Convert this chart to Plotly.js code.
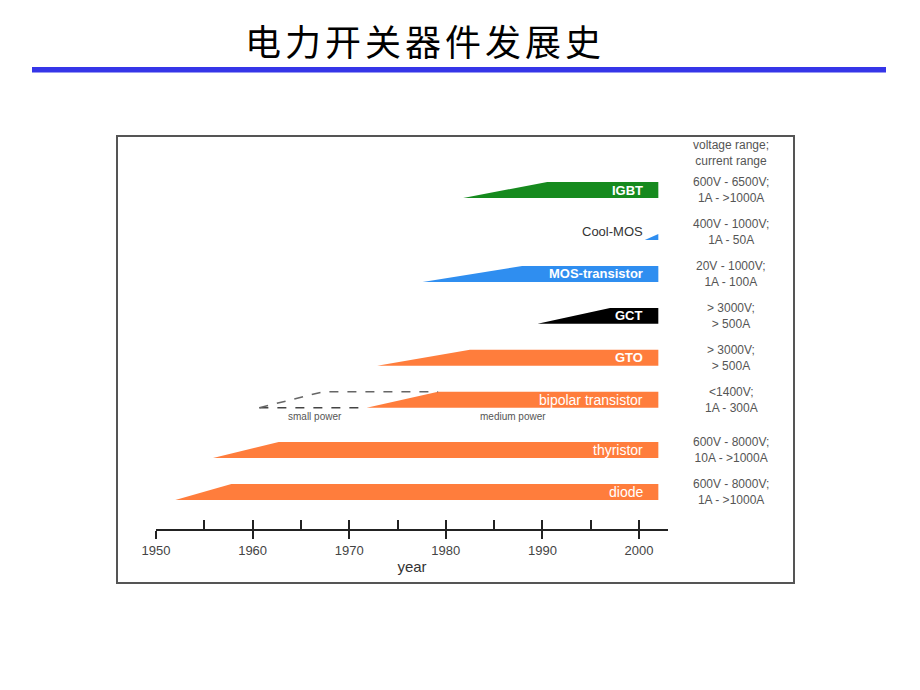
<!DOCTYPE html>
<html><head><meta charset="utf-8">
<script src="https://cdn.plot.ly/plotly-3.0.1.min.js"></script>
<style>
html,body{margin:0;padding:0;background:#fff}
#chart{width:920px;height:690px}
.gtitle{letter-spacing:4px}
</style>
</head><body><div id="chart"></div>
<script>
// ---- data ----
const devices = ['diode', 'thyristor', 'bipolar transistor', 'GTO', 'GCT', 'MOS-transistor', 'Cool-MOS', 'IGBT'];
const startYear = [1952.0, 1955.9, 1971.8, 1972.9, 1989.5, 1977.6, 2000.6, 1981.8];
const fullYear  = [1957.8, 1962.7, 1979.2, 1982.5, 1997.0, 1987.9, 2004.3, 1990.5];
const endYear = 2002;
const voltageRange = ['600V - 8000V;', '600V - 8000V;', '<1400V;', '> 3000V;', '> 3000V;', '20V - 1000V;', '400V - 1000V;', '600V - 6500V;'];
const currentRange = ['1A - >1000A', '10A - >1000A', '1A - 300A', '> 500A', '> 500A', '1A - 100A', '1A - 50A', '1A - >1000A'];
const rangeHeader = ['voltage range;', 'current range'];
const smallPowerStart = 1960.7;
const smallPowerFull = 1967.3;
const yearTicks = [1950, 1960, 1970, 1980, 1990, 2000];
const halfYearTicks = [1950, 1955, 1960, 1965, 1970, 1975, 1980, 1985, 1990, 1995, 2000];
const chartTitle = '电力开关器件发展史';
const axisTitle = 'year';
const powerNotes = ['small power', 'medium power'];

// ---- styles ----
const ORANGE = '#ff7d3c', GREEN = '#168a1e', BLUE = '#2f8ef0', BLACK = '#000000';
const style = {
  'diode': {color: ORANGE, bold: false, inside: true},
  'thyristor': {color: ORANGE, bold: false, inside: true},
  'bipolar transistor': {color: ORANGE, bold: false, inside: true},
  'GTO': {color: ORANGE, bold: true, inside: true},
  'GCT': {color: BLACK, bold: true, inside: true},
  'MOS-transistor': {color: BLUE, bold: true, inside: true},
  'Cool-MOS': {color: BLUE, bold: false, inside: false},
  'IGBT': {color: GREEN, bold: true, inside: true}
};
const SANS = '"Liberation Sans", Arial, sans-serif';
const H = 0.19;                 // half bar height in row units
const rowPos = i => i + (i >= 2 ? 0.2 : 0);
const esc = s => s.replace(/&/g,'&amp;').replace(/</g,'&lt;').replace(/>/g,'&gt;');
const W = 920, HT = 690;
const px = x => x / W, py = y => 1 - y / HT;

const traces = [];
devices.forEach((d, i) => {
  const c = rowPos(i), bot = c - H, top = c + H;
  let xs, ys;
  if (fullYear[i] <= endYear) {
    xs = [startYear[i], fullYear[i], endYear, endYear, startYear[i]];
    ys = [bot, top, top, bot, bot];
  } else {
    const yk = bot + 2 * H * (endYear - startYear[i]) / (fullYear[i] - startYear[i]);
    xs = [startYear[i], endYear, endYear, startYear[i]];
    ys = [bot, yk, bot, bot];
  }
  traces.push({type: 'scatter', x: xs, y: ys, mode: 'lines', fill: 'toself',
    fillcolor: style[d].color, line: {width: 0, color: style[d].color}, hoverinfo: 'skip'});
});
// dashed "small power" lines on the bipolar row
const bi = devices.indexOf('bipolar transistor');
const bc = rowPos(bi);
traces.push({type: 'scatter', mode: 'lines', hoverinfo: 'skip',
  x: [smallPowerStart, startYear[bi]], y: [bc - H, bc - H],
  line: {color: '#444', width: 1.5, dash: 'dash'}});
traces.push({type: 'scatter', mode: 'lines', hoverinfo: 'skip',
  x: [smallPowerStart, smallPowerFull, fullYear[bi]], y: [bc - H, bc + H, bc + H],
  line: {color: '#666', width: 1.5, dash: 'dash'}});
traces.push({type: 'scatter', mode: 'markers', x: [], y: [], xaxis: 'x2', hoverinfo: 'skip'});

const annotations = [];
devices.forEach((d, i) => {
  const c = rowPos(i), st = style[d];
  annotations.push({xref: 'x', yref: 'y', x: endYear, y: c, xanchor: 'right', yanchor: 'middle',
    xshift: -13, showarrow: false,
    text: st.bold ? '<b>' + esc(d) + '</b>' : esc(d),
    font: {family: SANS, size: st.bold ? 13 : (st.inside ? 14 : 13), color: st.inside ? '#ffffff' : '#333333'}});
  annotations.push({xref: 'paper', yref: 'y', x: px(731), y: c, xanchor: 'center', yanchor: 'middle',
    showarrow: false, align: 'center',
    text: esc(voltageRange[i]) + '<br>' + esc(currentRange[i]),
    font: {family: SANS, size: 12, color: '#555555'}});
});
annotations.push({xref: 'paper', yref: 'paper', x: px(731), y: py(152.5), xanchor: 'center', yanchor: 'middle',
  showarrow: false, align: 'center', text: rangeHeader.map(esc).join('<br>'),
  font: {family: SANS, size: 12, color: '#555555'}});
annotations.push({xref: 'x', yref: 'y', x: 1966.5, y: bc - 0.39, xanchor: 'center', yanchor: 'middle',
  showarrow: false, text: powerNotes[0], font: {family: SANS, size: 10, color: '#555555'}});
annotations.push({xref: 'x', yref: 'y', x: 1987.0, y: bc - 0.39, xanchor: 'center', yanchor: 'middle',
  showarrow: false, text: powerNotes[1], font: {family: SANS, size: 10, color: '#555555'}});

const axisPos = py(530);
const dom = [px(156), px(668)];
const layout = {
  width: W, height: HT, margin: {l: 0, r: 0, t: 0, b: 0},
  paper_bgcolor: '#ffffff', plot_bgcolor: 'rgba(0,0,0,0)', showlegend: false,
  title: {text: chartTitle, xref: 'container', yref: 'container', x: 425 / W, xanchor: 'center',
    y: 1 - 43 / HT, yanchor: 'middle',
    font: {family: '"Noto Sans CJK SC", sans-serif', size: 36, color: '#000000'}},
  xaxis: {domain: dom, range: [1950, 2003], anchor: 'free', position: axisPos,
    showline: true, linecolor: '#222222', linewidth: 2, ticks: 'outside', ticklen: 8,
    tickwidth: 2, tickcolor: '#222222', tickmode: 'array', tickvals: yearTicks,
    tickfont: {family: SANS, size: 13, color: '#444444'}, showgrid: false, zeroline: false,
    fixedrange: true,
    title: {text: axisTitle, standoff: 4, font: {family: SANS, size: 15, color: '#333333'}}},
  xaxis2: {domain: dom, range: [1950, 2003], overlaying: 'x', anchor: 'free', position: axisPos,
    showline: false, ticks: 'inside', ticklen: 10, tickwidth: 2, tickcolor: '#222222',
    tickmode: 'array', tickvals: halfYearTicks, showticklabels: false, showgrid: false,
    zeroline: false, fixedrange: true},
  yaxis: {domain: [0, 1], range: [-(HT - 492) / 41.94, 492 / 41.94], visible: false, fixedrange: true},
  annotations: annotations,
  shapes: [
    {type: 'rect', xref: 'paper', yref: 'paper', x0: px(32), x1: px(886), y0: py(72.5), y1: py(67),
      fillcolor: '#3535e8', line: {width: 0}},
    {type: 'rect', xref: 'paper', yref: 'paper', x0: px(117), x1: px(794), y0: py(583), y1: py(136),
      fillcolor: 'rgba(0,0,0,0)', line: {color: '#555555', width: 2}, layer: 'below'}
  ]
};
Plotly.newPlot('chart', traces, layout, {staticPlot: true, displayModeBar: false});
</script>
</body></html>
